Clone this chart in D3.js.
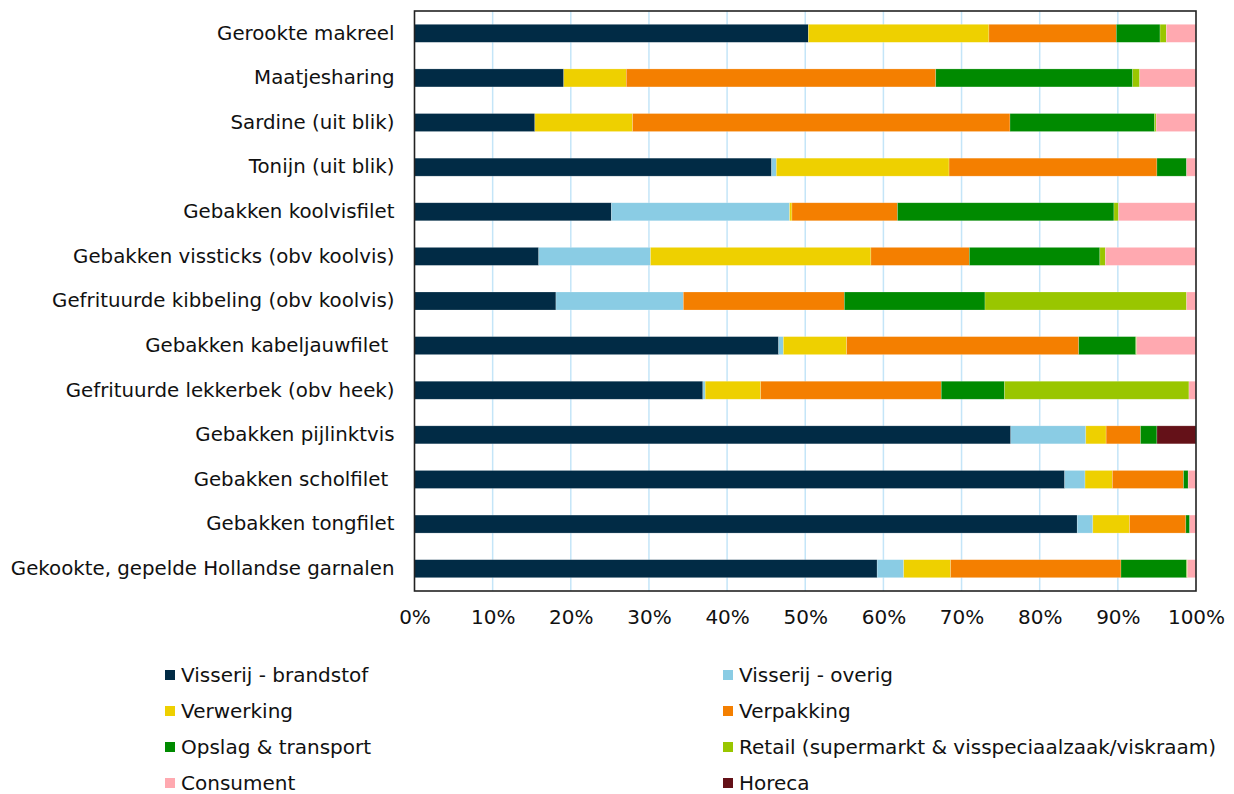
<!DOCTYPE html>
<html>
<head>
<meta charset="utf-8">
<script src="https://cdn.jsdelivr.net/npm/d3@7/dist/d3.min.js"></script>
<style>
  html, body { margin: 0; padding: 0; background: #fff; }
  svg text { font-family: "DejaVu Sans", Verdana, sans-serif; fill: #111; white-space: pre; }
</style>
</head>
<body>
<svg id="chart" width="1234" height="794"></svg>
<script>
const categories = [
  "Gerookte makreel",
  "Maatjesharing",
  "Sardine (uit blik)",
  "Tonijn (uit blik)",
  "Gebakken koolvisfilet",
  "Gebakken vissticks (obv koolvis)",
  "Gefrituurde kibbeling (obv koolvis)",
  "Gebakken kabeljauwfilet ",
  "Gefrituurde lekkerbek (obv heek)",
  "Gebakken pijlinktvis",
  "Gebakken scholfilet ",
  "Gebakken tongfilet",
  "Gekookte, gepelde Hollandse garnalen"
];
const seriesNames = [
  "Visserij - brandstof",
  "Visserij - overig",
  "Verwerking",
  "Verpakking",
  "Opslag & transport",
  "Retail (supermarkt & visspeciaalzaak/viskraam)",
  "Consument",
  "Horeca"
];
const seriesColors = ["#012b45", "#8accE4", "#eed000", "#f47f00", "#008a00", "#99c600", "#ffa9b0", "#641118"];

// values per series, in % (order of categories)
const visserijBrandstof = [50.4, 19.1, 15.4, 45.7, 25.2, 15.9, 18.1, 46.6, 36.9, 76.3, 83.2, 84.8, 59.2];
const visserijOverig    = [0.0,  0.0,  0.0,  0.6, 22.8, 14.3, 16.3,  0.6,  0.3,  9.6,  2.6,  2.0,  3.4];
const verwerking        = [23.1, 8.0, 12.5, 22.1,  0.3, 28.2,  0.0,  8.1,  7.1,  2.6,  3.5,  4.7,  6.0];
const verpakking        = [16.3, 39.6, 48.3, 26.6, 13.5, 12.6, 20.6, 29.7, 23.1, 4.4,  9.1,  7.2, 21.8];
const opslagTransport   = [5.6, 25.2, 18.5,  3.8, 27.7, 16.7, 18.0,  7.3,  8.1,  2.1,  0.6,  0.5,  8.4];
const retail            = [0.8,  0.9,  0.2,  0.0,  0.6,  0.7, 25.8,  0.1, 23.6,  0.0,  0.0,  0.0,  0.1];
const consument         = [3.8,  7.2,  5.1,  1.2,  9.9, 11.6,  1.2,  7.6,  0.9,  0.0,  1.0,  0.8,  1.1];
const horeca            = [0.0,  0.0,  0.0,  0.0,  0.0,  0.0,  0.0,  0.0,  0.0,  5.0,  0.0,  0.0,  0.0];
const xTicks = [0, 10, 20, 30, 40, 50, 60, 70, 80, 90, 100];

const seriesValues = [visserijBrandstof, visserijOverig, verwerking, verpakking, opslagTransport, retail, consument, horeca];

const rows = categories.map((c, i) => {
  const r = { cat: c };
  seriesNames.forEach((s, j) => r[s] = seriesValues[j][i]);
  return r;
});

const svg = d3.select("#chart");
const margin = { left: 414.5, right: 1196, top: 11, bottom: 591 };

const x = d3.scaleLinear().domain([0, 100]).range([margin.left, margin.right]);
const y = d3.scaleBand().domain(categories).range([margin.top, margin.bottom]).paddingInner(0.6).paddingOuter(0.3);

// gridlines
svg.append("g")
  .selectAll("line")
  .data(xTicks.slice(1, -1))
  .join("line")
  .attr("x1", d => x(d)).attr("x2", d => x(d))
  .attr("y1", margin.top).attr("y2", margin.bottom)
  .attr("stroke", "#c4e5f8").attr("stroke-width", 1.5);

// stacked bars
const stack = d3.stack().keys(seriesNames);
const stacked = stack(rows);
const bh = 18;
svg.append("g")
  .selectAll("g")
  .data(stacked)
  .join("g")
  .attr("fill", (d, i) => seriesColors[i])
  .selectAll("rect")
  .data(d => d)
  .join("rect")
  .attr("x", d => x(d[0]))
  .attr("width", d => Math.max(0, x(d[1]) - x(d[0])))
  .attr("y", d => y(d.data.cat) + y.bandwidth() / 2 - bh / 2)
  .attr("height", bh)
  .attr("stroke", "#ffffff")
  .attr("stroke-opacity", 0.35)
  .attr("stroke-width", 0.6);

// frame
svg.append("rect")
  .attr("x", margin.left).attr("y", margin.top)
  .attr("width", margin.right - margin.left)
  .attr("height", margin.bottom - margin.top)
  .attr("fill", "none").attr("stroke", "#222").attr("stroke-width", 1.6);

// y labels
const yAxis = d3.axisLeft(y).tickSize(0).tickPadding(20);
const gy = svg.append("g").attr("transform", `translate(${margin.left},0)`).call(yAxis);
gy.select(".domain").remove();
gy.selectAll("text")
  .style("font-family", '"DejaVu Sans", Verdana, sans-serif')
  .style("font-size", "19.8px")
  .attr("fill", "#111");

// x labels
const xAxis = d3.axisBottom(x).tickValues(xTicks).tickFormat(d => d + "%").tickSize(0).tickPadding(19);
const gx = svg.append("g").attr("transform", `translate(0,${margin.bottom})`).call(xAxis);
gx.select(".domain").remove();
gx.selectAll("text")
  .style("font-family", '"DejaVu Sans", Verdana, sans-serif')
  .style("font-size", "20px")
  .attr("fill", "#111");

// legend
const legCols = [165, 723];
const legRows = [675, 711, 747, 783];
const leg = svg.append("g")
  .selectAll("g")
  .data(seriesNames)
  .join("g")
  .attr("transform", (d, i) => `translate(${legCols[i % 2]},${legRows[Math.floor(i / 2)]})`);
leg.append("rect")
  .attr("x", 0).attr("y", -5).attr("width", 10).attr("height", 10)
  .attr("fill", (d, i) => seriesColors[i]);
leg.append("text")
  .attr("x", 16).attr("y", 0).attr("dy", "0.36em")
  .style("font-size", "20px")
  .text(d => d);
</script>
</body>
</html>
